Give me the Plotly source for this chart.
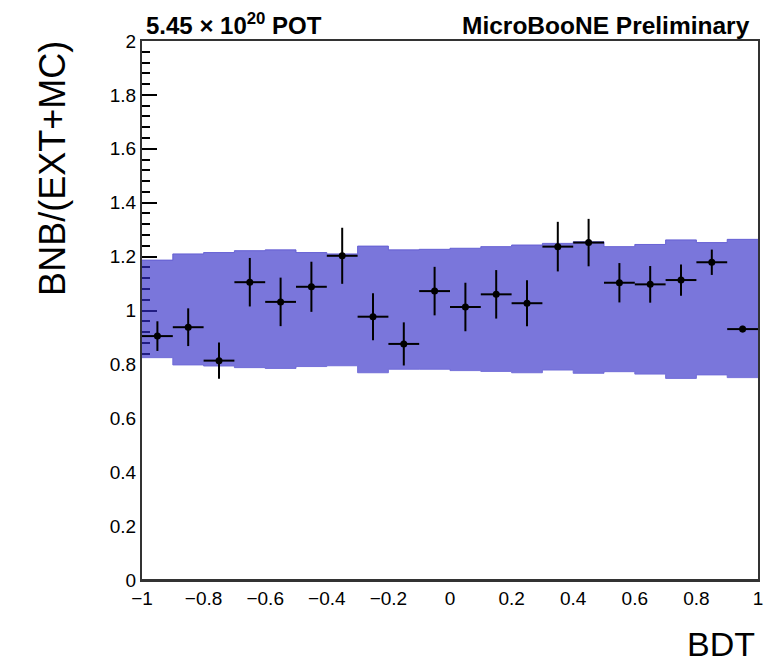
import plotly.graph_objects as go

# ---- data ----
bin_edges = [round(-1 + 0.1 * i, 2) for i in range(21)]
bin_centers = [round(-0.95 + 0.1 * i, 2) for i in range(20)]
ratio = [0.905, 0.938, 0.814, 1.105, 1.032, 1.088, 1.203, 0.977, 0.876, 1.072,
         1.013, 1.060, 1.027, 1.237, 1.252, 1.103, 1.097, 1.113, 1.179, 0.931]
ratio_err = [0.055, 0.070, 0.067, 0.090, 0.090, 0.093, 0.104, 0.087, 0.080, 0.090,
             0.090, 0.090, 0.085, 0.092, 0.088, 0.073, 0.068, 0.058, 0.047, 0.012]
band_upper = [1.187, 1.210, 1.215, 1.222, 1.225, 1.215, 1.210, 1.239, 1.225, 1.227,
              1.231, 1.237, 1.243, 1.249, 1.255, 1.237, 1.245, 1.262, 1.252, 1.264]
band_lower = [0.825, 0.798, 0.794, 0.788, 0.785, 0.792, 0.795, 0.769, 0.782, 0.782,
              0.777, 0.774, 0.769, 0.779, 0.767, 0.773, 0.764, 0.748, 0.761, 0.751]
x_ticks = [-1, -0.8, -0.6, -0.4, -0.2, 0, 0.2, 0.4, 0.6, 0.8, 1]
y_ticks = [0, 0.2, 0.4, 0.6, 0.8, 1, 1.2, 1.4, 1.6, 1.8, 2]

FONT = "Liberation Sans, Arial, sans-serif"
BAND = "rgba(50,45,200,0.65)"

fig = go.Figure()

# white fill below the band (hides ticks, like the reference)
fig.add_trace(go.Scatter(
    x=bin_edges, y=band_lower + [band_lower[-1]],
    mode="lines", line=dict(shape="hv", width=1, color="rgba(110,105,215,0.9)"),
    fill="tozeroy", fillcolor="white", hoverinfo="skip", showlegend=False))
# uncertainty band
fig.add_trace(go.Scatter(
    x=bin_edges, y=band_upper + [band_upper[-1]],
    mode="lines", line=dict(shape="hv", width=1, color="rgba(95,90,210,0.9)"),
    fill="tonexty", fillcolor=BAND, hoverinfo="skip", showlegend=False))
# data points
fig.add_trace(go.Scatter(
    x=bin_centers, y=ratio, mode="markers",
    marker=dict(color="black", size=7),
    error_x=dict(type="constant", value=0.05, color="black", thickness=2, width=0),
    error_y=dict(type="data", array=ratio_err, color="black", thickness=2, width=0),
    showlegend=False))

# page body has an 8px default margin -> compensate in the figure geometry
fig.update_layout(
    width=767, height=654,
    margin=dict(l=134, r=13, t=33, b=82),
    paper_bgcolor="white", plot_bgcolor="white",
    font=dict(family=FONT, color="black"),
    xaxis=dict(range=[-1, 1], tickvals=x_ticks, ticks="inside", ticklen=14,
               tickcolor="black", tickwidth=1.5,
               minor=dict(ticks="inside", ticklen=7, dtick=0.04, tickcolor="black"),
               showgrid=False, zeroline=False, showline=True, linecolor="#333",
               linewidth=2, mirror=True, layer="below traces",
               tickfont=dict(size=19, family=FONT)),
    yaxis=dict(range=[0, 2], tickvals=y_ticks, ticks="inside", ticklen=15,
               tickcolor="black", tickwidth=1.5,
               minor=dict(ticks="inside", ticklen=8, dtick=0.04, tickcolor="black"),
               showgrid=False, zeroline=False, showline=True, linecolor="#333",
               linewidth=2, mirror=True, layer="below traces",
               tickfont=dict(size=19, family=FONT)),
    shapes=[dict(type="line", xref="paper", yref="paper", x0=0, x1=1, y0=0, y1=0,
                 line=dict(color="#333", width=2), layer="above")],
    annotations=[
        dict(text="BNB/(EXT+MC)", xref="paper", yref="paper", x=-0.145, y=0.764,
             xanchor="center", yanchor="middle", textangle=-90, showarrow=False,
             font=dict(size=36, family=FONT)),
        dict(text="BDT", xref="paper", yref="paper", x=0.997, y=-0.118,
             xanchor="right", yanchor="middle", showarrow=False, borderpad=0,
             font=dict(size=34, family=FONT)),
        dict(text="<b>5.45 \u00d7 10<sup>20</sup> POT</b>", xref="paper", yref="paper",
             x=0.003, y=1.0, xanchor="left", yanchor="bottom", showarrow=False,
             font=dict(size=24, family=FONT)),
        dict(text="<b>MicroBooNE Preliminary</b>", xref="paper", yref="paper",
             x=0.99, y=1.0, xanchor="right", yanchor="bottom", showarrow=False,
             font=dict(size=24.5, family=FONT)),
    ],
)

fig.write_html("out.html")
